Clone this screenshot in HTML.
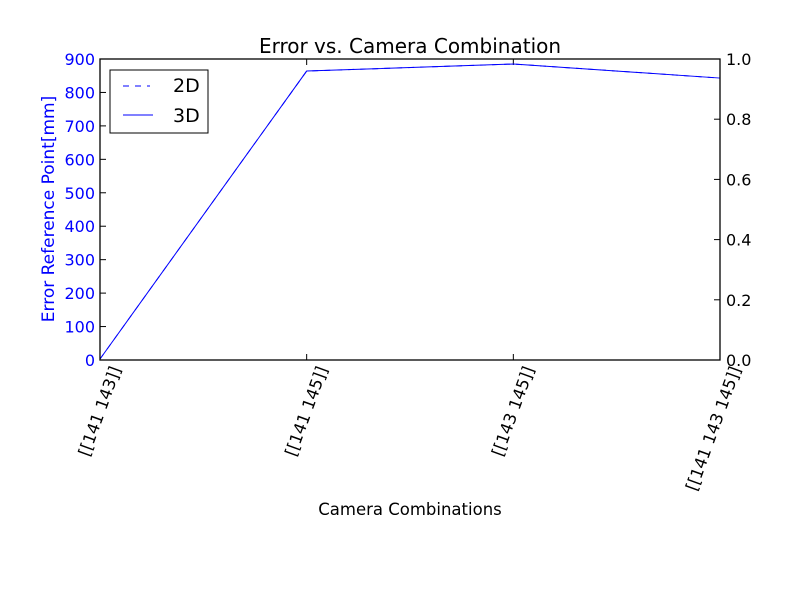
<!DOCTYPE html>
<html><head><meta charset="utf-8"><style>body{margin:0;background:#fff}svg text{font-family:"DejaVu Sans","Liberation Sans",sans-serif}</style></head>
<body>
<svg id="chart" width="800" height="600" xmlns="http://www.w3.org/2000/svg">
<rect width="800" height="600" fill="#fff"/>
<g id="g"></g>
</svg>
<script>
const categories = ["[[141 143]]","[[141 145]]","[[143 145]]","[[141 143 145]]"];
const values3D = [3, 864, 885, 843];
const values2D = [3, 864, 885, 843];
const leftTicks = [0,100,200,300,400,500,600,700,800,900];
const rightTicks = ["0.0","0.2","0.4","0.6","0.8","1.0"];
const L=100,R=720,T=59,B=360;
const NS="http://www.w3.org/2000/svg";
const g=document.getElementById('g');
function mk(t,a,p){const e=document.createElementNS(NS,t);for(const k in a)e.setAttribute(k,a[k]);(p||g).appendChild(e);return e;}
const xs=i=>L+i*(R-L)/(categories.length-1);
const ys=v=>B-v/900*(B-T);
const yr=v=>B-v*(B-T);
leftTicks.forEach(v=>{const y=ys(v);
 let l=mk('line',{x1:L,x2:L+6,y1:y,y2:y,stroke:'#000'});
 
 let t=mk('text',{x:L-5,y:y+6,'text-anchor':'end','font-size':16,fill:'#0000ff'});t.textContent=v;
 });
rightTicks.forEach(s=>{const y=yr(parseFloat(s));
 let l=mk('line',{x1:R-6,x2:R,y1:y,y2:y,stroke:'#000'});
 
 let t=mk('text',{x:R+6,y:y+6,'font-size':16,fill:'#000'});t.textContent=s;
 });
categories.forEach((c,i)=>{const x=xs(i);
 let l=mk('line',{x1:x,x2:x,y1:B,y2:B-6,stroke:'#000'});
 
 let l2=mk('line',{x1:x,x2:x,y1:T,y2:T+6,stroke:'#000'});
 
 let t=mk('text',{transform:`translate(${x+21},${B+9}) rotate(-70)`,'text-anchor':'end','font-size':16.5,fill:'#000'});t.textContent=c;
 });
let p2=mk('polyline',{points:values2D.map((v,i)=>xs(i)+','+ys(v)).join(' '),fill:'none',stroke:'#0000ff','stroke-dasharray':'6,6'});

let p3=mk('polyline',{points:values3D.map((v,i)=>xs(i)+','+ys(v)).join(' '),fill:'none',stroke:'#0000ff'});

let fr=mk('rect',{x:L,y:T,width:R-L,height:B-T,fill:'none',stroke:'#000','stroke-width':1.3});

</script>
<svg width="800" height="600" style="position:absolute;left:0;top:0" xmlns="http://www.w3.org/2000/svg">
<text x="410" y="53" text-anchor="middle" font-size="20">Error vs. Camera Combination</text>
<text transform="translate(54,209) rotate(-90)" text-anchor="middle" font-size="17" fill="#0000ff">Error Reference Point[mm]</text>
<text x="410" y="515" text-anchor="middle" font-size="16.5">Camera Combinations</text>
<g>
<rect x="110" y="70" width="98" height="63" fill="#fff" stroke="#000"/>
<line x1="123" x2="150" y1="86" y2="86" stroke="#0000ff" stroke-dasharray="6,6"/>
<text x="173" y="92" font-size="19">2D</text>
<line x1="123" x2="153" y1="115" y2="115" stroke="#0000ff"/>
<text x="173" y="122" font-size="19">3D</text>
</g>
</svg>
</body></html>
